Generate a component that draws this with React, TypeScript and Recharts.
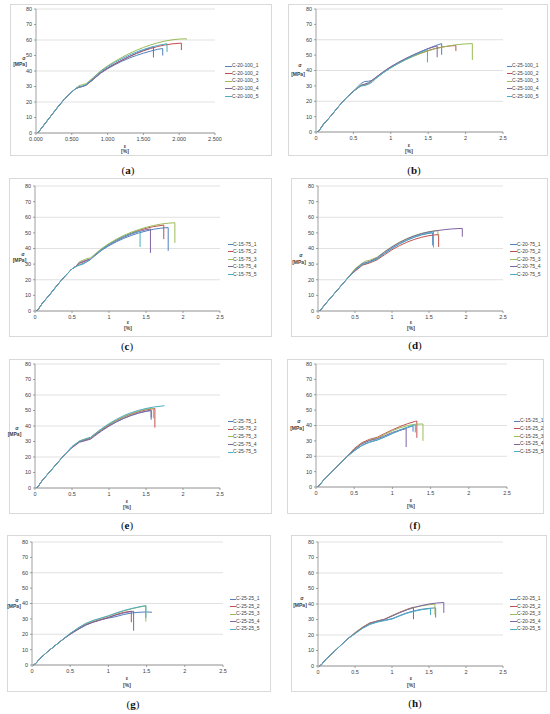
import { LineChart, Line, XAxis, YAxis, CartesianGrid } from 'recharts';

type Pt = [number, number];

const colors = ['#4F81BD', '#C0504D', '#9BBB59', '#8064A2', '#4BACC6'];
const xTicks = [0, 0.5, 1, 1.5, 2, 2.5];
const yTicks = [0, 10, 20, 30, 40, 50, 60, 70, 80];

// (a) C-20-100
const namesA = ['C-20-100_1', 'C-20-100_2', 'C-20-100_3', 'C-20-100_4', 'C-20-100_5'];
const riseA: Pt[] = [[0.02, 0], [0.05, 1.5], [0.1, 4.5], [0.2, 10.5], [0.3, 16.5], [0.4, 22], [0.5, 26.5], [0.55, 28.5]];
const a1: Pt[] = [...riseA, [0.6, 29.5], [0.65, 30], [0.7, 31], [0.8, 34.5], [0.9, 38.5], [1.0, 41.5], [1.1, 44], [1.2, 46.3], [1.3, 48.3], [1.4, 50], [1.5, 51.5], [1.6, 52.8], [1.7, 54], [1.77, 54.5], [1.77, 50]];
const a2: Pt[] = [...riseA, [0.6, 29.6], [0.65, 30.2], [0.7, 31], [0.8, 35], [0.9, 39], [1.0, 42], [1.1, 44.6], [1.2, 47], [1.3, 49.2], [1.4, 51.2], [1.5, 53], [1.6, 54.5], [1.7, 55.8], [1.8, 56.8], [1.9, 57.5], [2.03, 58], [2.03, 53.5]];
const a3: Pt[] = [...riseA, [0.6, 30.5], [0.65, 31.2], [0.7, 31.8], [0.8, 35.8], [0.9, 40], [1.0, 43.3], [1.1, 46.2], [1.2, 48.8], [1.3, 51.2], [1.4, 53.3], [1.5, 55.2], [1.6, 56.8], [1.7, 58.2], [1.8, 59.3], [1.9, 60.1], [2.0, 60.6], [2.1, 60.8], [2.1, 60.2]];
const a4: Pt[] = [...riseA, [0.6, 29.5], [0.65, 30], [0.7, 30.8], [0.8, 34.6], [0.9, 38.6], [1.0, 41.8], [1.1, 44.5], [1.2, 47], [1.3, 49.3], [1.4, 51.4], [1.5, 53.3], [1.6, 55], [1.64, 55.6], [1.64, 48.7]];
const a5: Pt[] = [...riseA, [0.6, 29.8], [0.65, 30.4], [0.7, 31.2], [0.8, 35.5], [0.9, 39.6], [1.0, 42.8], [1.1, 45.5], [1.2, 48], [1.3, 50.2], [1.4, 52.2], [1.5, 53.9], [1.6, 55.3], [1.7, 56.5], [1.83, 57.6], [1.83, 52.3]];

// (b) C-25-100
const namesB = ['C-25-100_1', 'C-25-100_2', 'C-25-100_3', 'C-25-100_4', 'C-25-100_5'];
const riseB: Pt[] = [[0.02, 0], [0.05, 1.5], [0.1, 5], [0.2, 10.5], [0.3, 16.5], [0.4, 22], [0.5, 26.5]];
const b1: Pt[] = [...riseB, [0.6, 31.5], [0.65, 32.8], [0.7, 33], [0.75, 33.5], [0.8, 35.5], [0.9, 39], [1.0, 42.3], [1.1, 45], [1.2, 47.5], [1.3, 50], [1.4, 52.2], [1.5, 54.3], [1.6, 56.2], [1.68, 57.5], [1.68, 50.2]];
const b2: Pt[] = [...riseB, [0.6, 30], [0.65, 30.5], [0.7, 31.5], [0.8, 35], [0.9, 38.8], [1.0, 42], [1.1, 44.8], [1.2, 47.2], [1.3, 49.4], [1.4, 51.3], [1.5, 53], [1.6, 54.4], [1.7, 55.4], [1.8, 56], [1.87, 56.2], [1.87, 52.7]];
const b3: Pt[] = [...riseB, [0.6, 30.5], [0.7, 31.5], [0.8, 35], [0.9, 38.6], [1.0, 41.8], [1.1, 44.5], [1.2, 47], [1.3, 49.2], [1.4, 51.1], [1.5, 52.8], [1.6, 54.2], [1.7, 55.3], [1.8, 56.2], [1.9, 56.9], [2.0, 57.3], [2.09, 57.5], [2.09, 46.8]];
const b4: Pt[] = [...riseB, [0.6, 30.3], [0.7, 32], [0.8, 35.5], [0.9, 39.2], [1.0, 42.5], [1.1, 45.3], [1.2, 47.9], [1.3, 50.2], [1.4, 52.3], [1.5, 54.2], [1.62, 56], [1.62, 48.6]];
const b5: Pt[] = [...riseB, [0.6, 30], [0.65, 30.2], [0.7, 31], [0.75, 32.3], [0.8, 34.8], [0.9, 38.5], [1.0, 41.8], [1.1, 44.6], [1.2, 47.2], [1.3, 49.6], [1.4, 51.8], [1.49, 53.7], [1.49, 45.3]];

// (c) C-15-75
const namesC = ['C-15-75_1', 'C-15-75_2', 'C-15-75_3', 'C-15-75_4', 'C-15-75_5'];
const riseC: Pt[] = [[0.02, 0], [0.05, 1.5], [0.1, 5], [0.2, 10.5], [0.3, 16.5], [0.4, 22], [0.5, 27], [0.55, 28.5]];
const c1: Pt[] = [...riseC, [0.6, 29.5], [0.7, 31.5], [0.75, 33], [0.8, 35], [0.9, 38.8], [1.0, 41.8], [1.1, 44.3], [1.2, 46.5], [1.3, 48.3], [1.4, 49.9], [1.5, 51.2], [1.6, 52.3], [1.7, 53], [1.8, 53.4], [1.8, 38.5]];
const c2: Pt[] = [...riseC, [0.6, 30.5], [0.7, 32.3], [0.75, 33.2], [0.8, 35.5], [0.9, 39.5], [1.0, 42.7], [1.1, 45.4], [1.2, 47.8], [1.3, 49.8], [1.4, 51.5], [1.5, 52.9], [1.6, 54], [1.74, 55], [1.74, 46]];
const c3: Pt[] = [...riseC, [0.6, 31.5], [0.7, 33.5], [0.75, 34], [0.8, 36], [0.9, 40], [1.0, 43.2], [1.1, 46], [1.2, 48.4], [1.3, 50.4], [1.4, 52.1], [1.5, 53.5], [1.6, 54.7], [1.7, 55.6], [1.8, 56.2], [1.89, 56.5], [1.89, 43.6]];
const c4: Pt[] = [...riseC, [0.6, 30.8], [0.7, 32.6], [0.75, 33.2], [0.8, 35.3], [0.9, 39.2], [1.0, 42.3], [1.1, 44.9], [1.2, 47.2], [1.3, 49.2], [1.4, 50.8], [1.5, 52], [1.56, 52.5], [1.56, 37.2]];
const c5: Pt[] = [...riseC, [0.6, 29.3], [0.65, 30], [0.7, 31.5], [0.75, 33], [0.8, 35.3], [0.9, 39.3], [1.0, 42.5], [1.1, 45.2], [1.2, 47.6], [1.3, 49.5], [1.42, 51.1], [1.42, 41]];

// (d) C-20-75
const namesD = ['C-20-75_1', 'C-20-75_2', 'C-20-75_3', 'C-20-75_4', 'C-20-75_5'];
const riseD: Pt[] = [[0.02, 0], [0.05, 1.5], [0.1, 4.5], [0.2, 10], [0.3, 15.5], [0.4, 21]];
const d1: Pt[] = [...riseD, [0.5, 25.8], [0.6, 29.5], [0.7, 31.2], [0.8, 33.5], [0.9, 37], [1.0, 40.2], [1.1, 43], [1.2, 45.3], [1.3, 47.2], [1.4, 48.7], [1.5, 49.7], [1.55, 50], [1.55, 42]];
const d2: Pt[] = [...riseD, [0.5, 25.5], [0.6, 29.3], [0.7, 30.8], [0.8, 32.8], [0.9, 36], [1.0, 39.2], [1.1, 41.8], [1.2, 44], [1.3, 45.8], [1.4, 47.2], [1.5, 48.2], [1.63, 49], [1.63, 41]];
const d3: Pt[] = [...riseD, [0.5, 27], [0.6, 30.8], [0.65, 32], [0.7, 32.5], [0.8, 34.5], [0.9, 38], [1.0, 41.2], [1.1, 44], [1.2, 46.3], [1.3, 48.2], [1.4, 49.7], [1.5, 50.8], [1.62, 51.5], [1.62, 47.9]];
const d4: Pt[] = [...riseD, [0.5, 26.5], [0.6, 30.3], [0.7, 31.8], [0.8, 34], [0.9, 37.8], [1.0, 41], [1.1, 43.8], [1.2, 46.1], [1.3, 48], [1.4, 49.5], [1.5, 50.6], [1.6, 51.4], [1.7, 52], [1.8, 52.5], [1.95, 52.9], [1.95, 47.5]];
const d5: Pt[] = [...riseD, [0.5, 26], [0.6, 29.8], [0.7, 31.3], [0.8, 33.3], [0.9, 36.8], [1.0, 40], [1.1, 42.9], [1.2, 45.3], [1.3, 47.3], [1.4, 48.9], [1.5, 50.1], [1.56, 50.6], [1.56, 40.6]];

// (e) C-25-75
const namesE = ['C-25-75_1', 'C-25-75_2', 'C-25-75_3', 'C-25-75_4', 'C-25-75_5'];
const riseE: Pt[] = [[0.02, 0], [0.05, 1.5], [0.1, 5], [0.2, 10.5], [0.3, 16], [0.4, 21.5]];
const e1: Pt[] = [...riseE, [0.5, 26.3], [0.6, 29.8], [0.7, 31.2], [0.75, 32], [0.8, 33.8], [0.9, 37.2], [1.0, 40.2], [1.1, 42.8], [1.2, 45], [1.3, 46.9], [1.4, 48.4], [1.5, 49.5], [1.57, 50], [1.57, 44]];
const e2: Pt[] = [...riseE, [0.5, 26.5], [0.6, 30], [0.7, 31.5], [0.75, 32.3], [0.8, 34.2], [0.9, 37.7], [1.0, 40.8], [1.1, 43.5], [1.2, 45.8], [1.3, 47.7], [1.4, 49.2], [1.5, 50.4], [1.62, 51.3], [1.62, 39]];
const e3: Pt[] = [...riseE, [0.5, 26.5], [0.6, 30.3], [0.7, 32], [0.75, 32.5], [0.8, 34.5], [0.9, 38], [1.0, 41.1], [1.1, 43.8], [1.2, 46.1], [1.3, 48], [1.4, 49.6], [1.5, 50.8], [1.6, 51.6], [1.6, 45]];
const e4: Pt[] = [...riseE, [0.5, 26], [0.6, 29.5], [0.7, 30.8], [0.75, 31.5], [0.8, 33.3], [0.9, 36.8], [1.0, 39.9], [1.1, 42.6], [1.2, 44.9], [1.3, 46.8], [1.4, 48.3], [1.5, 49.5], [1.57, 50], [1.57, 45.5]];
const e5: Pt[] = [...riseE, [0.5, 26.8], [0.6, 30.2], [0.7, 32], [0.75, 32.6], [0.8, 34.6], [0.9, 38.3], [1.0, 41.5], [1.1, 44.3], [1.2, 46.7], [1.3, 48.6], [1.4, 50.1], [1.5, 51.3], [1.6, 52.2], [1.75, 53.1]];

// (f) C-15-25
const namesF = ['C-15-25_1', 'C-15-25_2', 'C-15-25_3', 'C-15-25_4', 'C-15-25_5'];
const riseF: Pt[] = [[0.02, 0], [0.05, 1.5], [0.1, 4.5], [0.2, 9.5], [0.3, 14.5], [0.4, 19.5]];
const f1: Pt[] = [...riseF, [0.5, 23.5], [0.6, 27], [0.7, 29.3], [0.8, 30.5], [0.9, 32.5], [1.0, 34.8], [1.1, 36.8], [1.2, 38.6], [1.27, 39.8], [1.27, 36]];
const f2: Pt[] = [...riseF, [0.5, 25], [0.6, 28.8], [0.7, 31], [0.8, 32.3], [0.9, 34.8], [1.0, 37.2], [1.1, 39.3], [1.2, 41.2], [1.3, 42.7], [1.32, 42.9], [1.32, 32]];
const f3: Pt[] = [...riseF, [0.5, 24.5], [0.6, 28.3], [0.7, 30.5], [0.8, 31.8], [0.9, 34.2], [1.0, 36.6], [1.1, 38.5], [1.2, 40], [1.3, 40.8], [1.4, 41], [1.4, 30]];
const f4: Pt[] = [...riseF, [0.5, 24.2], [0.6, 28], [0.7, 30.2], [0.8, 31.3], [0.9, 33.3], [1.0, 35.5], [1.1, 37], [1.18, 38], [1.18, 26]];
const f5: Pt[] = [...riseF, [0.5, 23.5], [0.6, 27], [0.7, 29], [0.8, 30.5], [0.9, 32.7], [1.0, 35], [1.1, 37.2], [1.2, 39], [1.3, 40.5], [1.3, 35.5]];

// (g) C-25-25
const namesG = ['C-25-25_1', 'C-25-25_2', 'C-25-25_3', 'C-25-25_4', 'C-25-25_5'];
const riseG: Pt[] = [[0.02, 0], [0.05, 1], [0.1, 4], [0.2, 8.5], [0.3, 12.5], [0.4, 16.5]];
const g1: Pt[] = [...riseG, [0.5, 20], [0.6, 23], [0.7, 25.8], [0.8, 28], [0.9, 29.5], [1.0, 30.5], [1.1, 31.5], [1.2, 32.8], [1.3, 33.8], [1.4, 34.3], [1.5, 34.5], [1.57, 34.3]];
const g2: Pt[] = [...riseG, [0.5, 20.2], [0.6, 23.5], [0.7, 26.3], [0.8, 28], [0.9, 29.5], [1.0, 31], [1.1, 32.8], [1.2, 34.2], [1.3, 35], [1.3, 27.8]];
const g3: Pt[] = [...riseG, [0.5, 20.5], [0.6, 23.8], [0.7, 26.8], [0.8, 28.8], [0.9, 30.3], [1.0, 31.8], [1.1, 33.6], [1.2, 35.2], [1.3, 36.5], [1.4, 37.6], [1.49, 38.5], [1.49, 28.3]];
const g4: Pt[] = [...riseG, [0.5, 20], [0.6, 23.2], [0.7, 26], [0.8, 27.8], [0.9, 29.3], [1.0, 30.8], [1.1, 32.5], [1.2, 33.8], [1.3, 34.8], [1.33, 35], [1.33, 22.3]];
const g5: Pt[] = [...riseG, [0.5, 20.6], [0.6, 24], [0.7, 27], [0.8, 29], [0.9, 30.5], [1.0, 32], [1.1, 33.8], [1.2, 35.4], [1.3, 36.7], [1.4, 37.8], [1.49, 38.6], [1.49, 30.7]];

// (h) C-20-25
const namesH = ['C-20-25_1', 'C-20-25_2', 'C-20-25_3', 'C-20-25_4', 'C-20-25_5'];
const riseH: Pt[] = [[0.02, 0], [0.05, 1], [0.1, 4], [0.2, 8.5], [0.3, 13], [0.4, 17.5]];
const h1: Pt[] = [...riseH, [0.5, 21], [0.6, 24.5], [0.7, 27], [0.8, 28.5], [0.9, 29.5], [1.0, 30.5], [1.1, 32.5], [1.2, 34.3], [1.3, 35.6], [1.4, 36.6], [1.5, 37.2], [1.59, 37.5], [1.59, 31.3]];
const h2: Pt[] = [...riseH, [0.5, 21.5], [0.6, 25], [0.7, 27.8], [0.8, 29], [0.9, 30.2], [1.0, 32.5], [1.1, 34.6], [1.2, 36.5], [1.29, 38], [1.29, 30.2]];
const h3: Pt[] = [...riseH, [0.5, 21.3], [0.6, 24.8], [0.7, 27.6], [0.8, 29], [0.9, 30.2], [1.0, 32.3], [1.1, 34.4], [1.2, 36.3], [1.3, 37.8], [1.4, 38.8], [1.5, 39.5], [1.58, 39.9], [1.58, 33]];
const h4: Pt[] = [...riseH, [0.5, 21], [0.6, 24.6], [0.7, 27.5], [0.8, 28.9], [0.9, 30.1], [1.0, 32.2], [1.1, 34.3], [1.2, 36.2], [1.3, 37.8], [1.4, 39], [1.5, 40], [1.6, 40.6], [1.7, 41], [1.7, 34.3]];
const h5: Pt[] = [...riseH, [0.5, 20.8], [0.6, 24.2], [0.7, 26.8], [0.8, 28.3], [0.9, 29.3], [1.0, 30.3], [1.1, 32.2], [1.2, 34], [1.3, 35.3], [1.4, 36.3], [1.52, 37.1], [1.52, 32.8]];

type Box = { l: number; t: number; r: number; b: number };
type PanelProps = {
  frame: Box;
  plot: Box; // l = x at 0, r = x at 2.5, t = y at 80, b = y at 0
  names: string[];
  series: Pt[][];
  fixed?: boolean;
  legend: { lineX: number; textX: number; ys: number[] };
  eps: [number, number, number];
  sig: [number, number, number, number];
  caption: { x: number; y: number; letter: string };
};

const font = '"Liberation Sans", Arial, sans-serif';
const tickStyle = { fontSize: 5.5, fill: '#404040', fontFamily: font };

const abs = (x: number, y: number, extra: React.CSSProperties = {}): React.CSSProperties => ({
  position: 'absolute', left: x, top: y, ...extra,
});

function Panel({ frame, plot, names, series, fixed, legend, eps, sig, caption }: PanelProps) {
  const w = frame.r - frame.l;
  const h = frame.b - frame.t;
  const yAxisW = plot.l - frame.l - 2;
  const xAxisH = frame.b - plot.b - 2;
  const small: React.CSSProperties = { fontFamily: font, fontSize: 5, color: '#404040', whiteSpace: 'nowrap', lineHeight: 1 };
  return (
    <>
      <div style={abs(frame.l, frame.t, { width: w, height: h, border: '1px solid #d9d9d9', boxSizing: 'border-box' })} />
      <div style={abs(frame.l, frame.t)}>
        <LineChart
          width={w}
          height={h}
          margin={{ left: 2, right: frame.r - plot.r, top: plot.t - frame.t, bottom: 2 }}
        >
          <CartesianGrid vertical={false} stroke="#d9d9d9" strokeWidth={0.8} />
          <XAxis
            dataKey="x"
            type="number"
            domain={[0, 2.5]}
            ticks={xTicks}
            height={xAxisH}
            tick={tickStyle}
            tickSize={2}
            tickMargin={2}
            stroke="#888"
            strokeWidth={0.8}
            tickFormatter={(v: number) => (fixed ? v.toFixed(3) : String(v))}
            allowDataOverflow
          />
          <YAxis
            type="number"
            domain={[0, 80]}
            ticks={yTicks}
            width={yAxisW}
            tick={tickStyle}
            tickSize={2}
            tickMargin={2}
            stroke="#888"
            strokeWidth={0.8}
          />
          {series.map((pts, i) => (
            <Line
              key={names[i]}
              data={pts.map(([x, y]) => ({ x, y }))}
              dataKey="y"
              type="linear"
              stroke={colors[i]}
              strokeWidth={1}
              dot={false}
              isAnimationActive={false}
            />
          ))}
        </LineChart>
      </div>
      {names.map((n, i) => (
        <div key={n}>
          <div style={abs(legend.lineX, legend.ys[i] - 0.5, { width: legend.textX - legend.lineX - 0.5, height: 1.2, background: colors[i] })} />
          <div style={abs(legend.textX, legend.ys[i] - 2.6, small)}>{n}</div>
        </div>
      ))}
      <div style={abs(eps[0] - 5, eps[1] - 3, { ...small, width: 10, textAlign: 'center', fontWeight: 'bold' })}>ε</div>
      <div style={abs(eps[0] - 8, eps[2] - 2.6, { ...small, width: 16, textAlign: 'center', fontWeight: 'bold' })}>[%]</div>
      <div style={abs(sig[0] - 5, sig[1] - 3, { ...small, width: 10, textAlign: 'center', fontWeight: 'bold' })}>σ</div>
      <div style={abs(sig[2] - 10, sig[3] - 2, { ...small, width: 20, textAlign: 'center', fontWeight: 'bold' })}>[MPa]</div>
      <div
        style={abs(caption.x - 20, caption.y - 7, {
          width: 40, textAlign: 'center', fontFamily: '"Liberation Serif", "Times New Roman", serif', fontSize: 11, color: '#111', lineHeight: 1,
        })}
      >
        (<b>{caption.letter}</b>)
      </div>
    </>
  );
}

export default function App() {
  return (
    <div style={{ position: 'absolute', left: 0, top: 0, width: 550, height: 714, background: '#fff', overflow: 'hidden' }}>
      <Panel
        frame={{ l: 10, t: 4, r: 272, b: 156 }}
        plot={{ l: 36, r: 215, t: 9, b: 133 }}
        names={namesA}
        series={[a1, a2, a3, a4, a5]}
        fixed
        legend={{ lineX: 225, textX: 232, ys: [66, 73.5, 81, 88.7, 96.5] }}
        eps={[125, 146.7, 152]}
        sig={[24, 58.5, 20, 63.5]}
        caption={{ x: 128, y: 172, letter: 'a' }}
      />
      <Panel
        frame={{ l: 288, t: 4, r: 548, b: 156 }}
        plot={{ l: 316, r: 503, t: 9, b: 132 }}
        names={namesB}
        series={[b1, b2, b3, b4, b5]}
        legend={{ lineX: 507, textX: 512, ys: [66, 73.5, 81, 88.7, 96.5] }}
        eps={[409, 145.7, 152]}
        sig={[300, 66, 298, 74]}
        caption={{ x: 414, y: 172, letter: 'b' }}
      />
      <Panel
        frame={{ l: 9, t: 178, r: 272, b: 337 }}
        plot={{ l: 35, r: 220, t: 186, b: 311 }}
        names={namesC}
        series={[c1, c2, c3, c4, c5]}
        legend={{ lineX: 228, textX: 233, ys: [244.7, 251.7, 259.3, 266.7, 274.3] }}
        eps={[128, 323, 329]}
        sig={[23, 254.5, 19.5, 259.5]}
        caption={{ x: 127, y: 348, letter: 'c' }}
      />
      <Panel
        frame={{ l: 291, t: 178, r: 548, b: 337 }}
        plot={{ l: 318, r: 503, t: 186, b: 311 }}
        names={namesD}
        series={[d1, d2, d3, d4, d5]}
        legend={{ lineX: 510, textX: 517, ys: [244.7, 251.7, 259.3, 266.7, 274.3] }}
        eps={[411, 323, 329]}
        sig={[301, 256, 299, 261.5]}
        caption={{ x: 415, y: 347, letter: 'd' }}
      />
      <Panel
        frame={{ l: 9, t: 359, r: 272, b: 514 }}
        plot={{ l: 35, r: 220, t: 364, b: 488 }}
        names={namesE}
        series={[e1, e2, e3, e4, e5]}
        legend={{ lineX: 228, textX: 233, ys: [421.3, 429, 436.7, 444.3, 452] }}
        eps={[127, 501.7, 507.7]}
        sig={[17, 429.3, 14.5, 434.3]}
        caption={{ x: 127, y: 527, letter: 'e' }}
      />
      <Panel
        frame={{ l: 287, t: 359, r: 544, b: 514 }}
        plot={{ l: 316, r: 507, t: 364, b: 487 }}
        names={namesF}
        series={[f1, f2, f3, f4, f5]}
        legend={{ lineX: 514, textX: 520, ys: [421, 428.7, 436.3, 444, 451.7] }}
        eps={[411, 500.7, 507]}
        sig={[299, 422, 297, 428]}
        caption={{ x: 415, y: 527, letter: 'f' }}
      />
      <Panel
        frame={{ l: 7, t: 535, r: 271, b: 692 }}
        plot={{ l: 32, r: 223, t: 542, b: 665 }}
        names={namesG}
        series={[g1, g2, g3, g4, g5]}
        legend={{ lineX: 230, textX: 236, ys: [599, 606.3, 614, 621.3, 629] }}
        eps={[127, 679, 685.7]}
        sig={[17, 600.7, 14, 605.7]}
        caption={{ x: 133, y: 706, letter: 'g' }}
      />
      <Panel
        frame={{ l: 291, t: 535, r: 547, b: 692 }}
        plot={{ l: 318, r: 503, t: 542, b: 666 }}
        names={namesH}
        series={[h1, h2, h3, h4, h5]}
        legend={{ lineX: 510, textX: 517, ys: [599, 606.7, 614, 621.7, 629] }}
        eps={[411, 678.7, 685.3]}
        sig={[302, 598.5, 300, 604.5]}
        caption={{ x: 415, y: 705, letter: 'h' }}
      />
    </div>
  );
}
